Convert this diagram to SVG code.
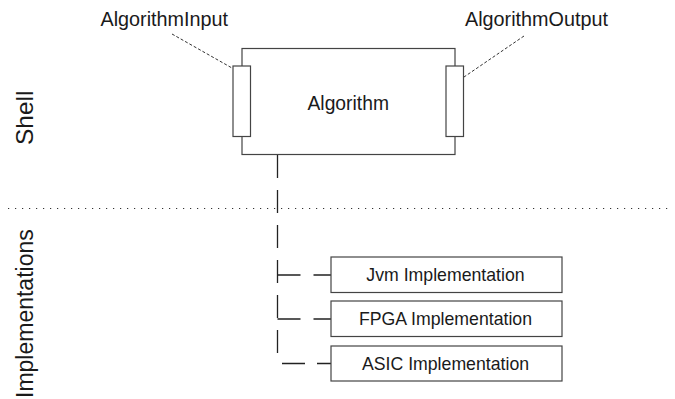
<svg xmlns="http://www.w3.org/2000/svg" width="675" height="399" viewBox="0 0 675 399">
<style>
text{font-family:"Liberation Sans",Arial,sans-serif;fill:#1a1a1a}
.box{fill:#fff;stroke:#444;stroke-width:1.2}
.lead{fill:none;stroke:#333;stroke-width:1;stroke-dasharray:3 2}
.conn{fill:none;stroke:#222;stroke-width:1.3}
.sep{fill:none;stroke:#333;stroke-width:1.2;stroke-dasharray:1.2 5.8}
.lbl{font-size:19.8px}
.impl{font-size:17.7px;text-anchor:middle}
.side{font-size:23px}
</style>
<rect width="675" height="399" fill="#fff"/>
<g id="separator"><line class="sep" x1="8" y1="208.5" x2="672" y2="208.5"/></g>
<g id="lane-labels">
<text class="side" transform="translate(33,145) rotate(-90)" style="font-size:24.5px">Shell</text>
<text class="side" transform="translate(33,398) rotate(-90)">Implementations</text>
</g>
<g id="connectors">
<path class="conn" d="M277.5,155 V356" stroke-dasharray="23 12"/>
<path class="conn" d="M277.5,275 H331" stroke-dasharray="23 13"/>
<path class="conn" d="M277.5,319 H331" stroke-dasharray="23 13"/>
<path class="conn" d="M282,363.5 H331" stroke-dasharray="23 12"/>
<line class="lead" x1="172" y1="34" x2="232" y2="68"/>
<line class="lead" x1="524" y1="36" x2="464" y2="77"/>
</g>
<g id="algorithm">
<rect class="box" x="242" y="48.5" width="213" height="106"/>
<text class="lbl" x="307.5" y="110" style="font-size:19.3px">Algorithm</text>
</g>
<g id="algorithm-input">
<rect class="box" x="233" y="66" width="17.5" height="70.5"/>
<text class="lbl" x="100.5" y="25.7">AlgorithmInput</text>
</g>
<g id="algorithm-output">
<rect class="box" x="446" y="66" width="17.5" height="70.5"/>
<text class="lbl" x="465" y="26">AlgorithmOutput</text>
</g>
<g id="jvm">
<rect class="box" x="331" y="257" width="231" height="35.5"/>
<text class="impl" x="445.5" y="281">Jvm Implementation</text>
</g>
<g id="fpga">
<rect class="box" x="331" y="301" width="231" height="35.5"/>
<text class="impl" x="445.5" y="325">FPGA Implementation</text>
</g>
<g id="asic">
<rect class="box" x="331" y="346" width="231" height="35"/>
<text class="impl" x="445.5" y="369.5">ASIC Implementation</text>
</g>
</svg>
